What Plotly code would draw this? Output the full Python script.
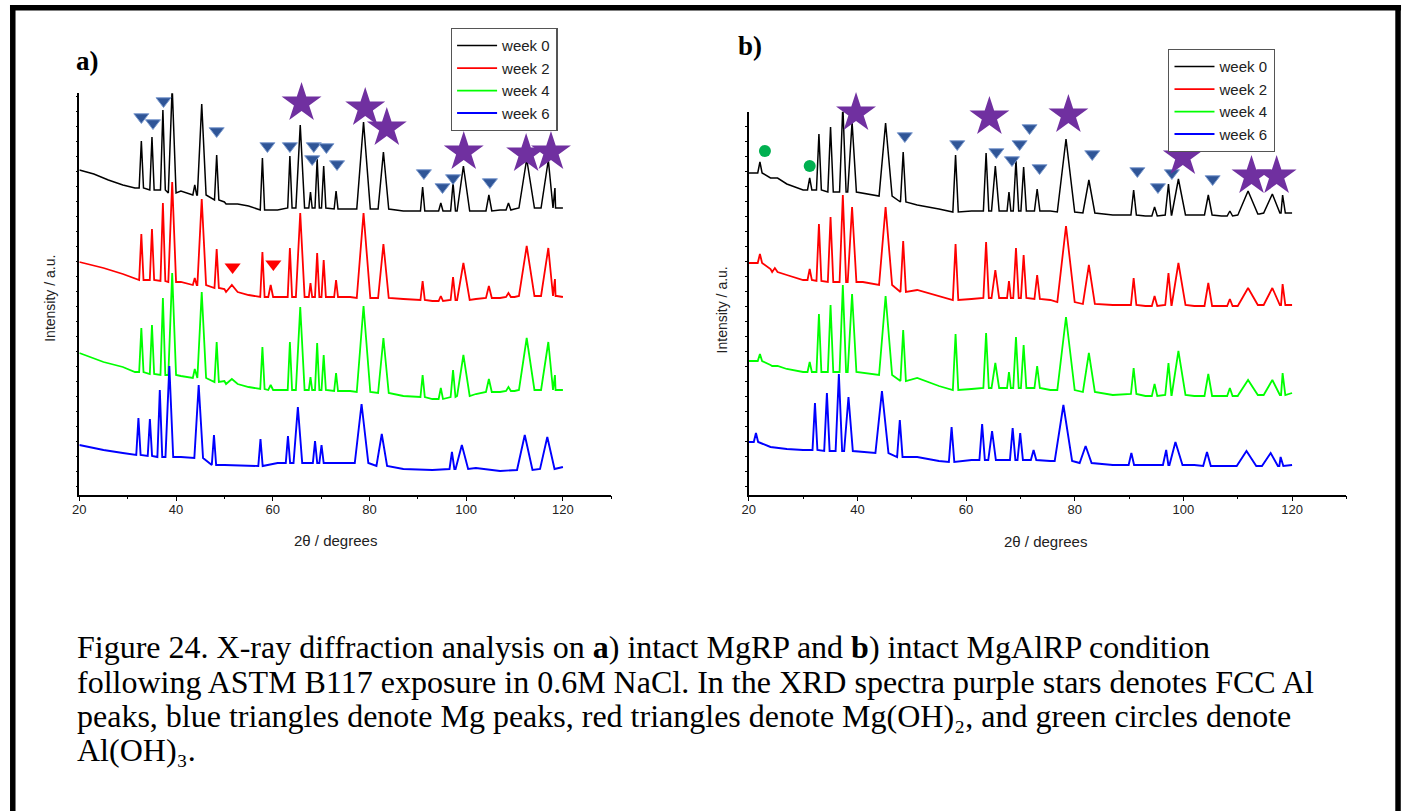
import plotly.graph_objects as go

# ---------------- data (2theta in degrees, intensity in a.u.) ----------------
weeks = ["week 0", "week 2", "week 4", "week 6"]
colors = ["#000000", "#FF0000", "#00FF00", "#0000FF"]

# Panel a (MgRP) - peaks shared by weeks 0, 2, 4
a_pos = [32.82, 35.02, 37.28, 39.20, 43.87, 45.31, 48.40, 51.54, 57.86, 59.57, 63.54, 65.68, 67.80, 69.18,
         70.53, 73.09, 78.77, 82.88, 90.99, 94.75, 97.28, 99.42, 104.69, 108.74, 112.51, 116.98, 118.35]
a_hw = [0.45, 0.45, 0.5, 0.8, 0.4, 0.9, 0.45, 1.2, 0.45, 0.5, 0.45, 0.9, 0.35, 0.45,
        0.45, 0.4, 1.4, 1.1, 0.45, 0.45, 0.5, 1.3, 0.6, 0.5, 1.6, 1.5, 0.4]
a_w0_top = [352, 356, 383, 406, 308, 389, 338, 289, 335, 283, 337, 368, 301, 334,
            327, 302, 371, 341, 306, 290, 310, 327, 298, 290, 334, 333, 305]
a_w0_foot = [305, 303, 303, 300, 298, 298, 293, 289, 283, 283, 285, 285, 285, 285,
             285, 284, 284, 284, 282, 282, 282, 282, 282, 283, 285, 285, 285]
a_w2_top = [259, 264, 290, 311, 215, 294, 244, 208, 241, 208, 245, 280, 210, 240,
            233, 213, 280, 249, 212, 197, 216, 230, 207, 200, 247, 245, 214]
a_w2_foot = [213, 213, 212, 211, 208, 208, 205, 201, 196, 196, 196, 196, 196, 196,
             196, 196, 195, 195, 193, 192, 193, 193, 195, 196, 197, 197, 197]
a_w4_top = [165, 168, 195, 220, 124, 201, 151, 114, 146, 108, 151, 186, 116, 150,
            138, 120, 187, 155, 118, 105, 123, 138, 114, 106, 155, 151, 118]
a_w4_foot = [121, 119, 118, 118, 115, 115, 111, 109, 104, 103, 103, 103, 103, 103,
             103, 102, 101, 100, 96, 94, 96, 97, 101, 102, 103, 103, 103]
a_w6_pos = [32.22, 34.59, 36.64, 38.61, 44.68, 47.84, 57.46, 63.14, 65.19, 68.74, 70.08, 78.36, 82.54,
            97.05, 99.10, 112.11, 116.77]
a_w6_hw = [0.45, 0.45, 0.5, 0.8, 0.9, 0.45, 0.45, 0.45, 0.9, 0.45, 0.45, 1.4, 1.1, 0.5, 1.3, 1.6, 1.5]
a_w6_top = [75, 74, 103, 127, 108, 58, 54, 57, 86, 52, 48, 89, 59, 41, 48, 58, 56]
a_w6_foot = [38, 37, 36, 36, 35, 28, 27, 30, 30, 30, 30, 30, 27, 24, 24, 23, 24]

a_w0_bx = [20, 23, 26, 29, 31.5, 41, 50, 55, 61, 76, 87, 93, 102, 107, 110, 120]
a_w0_by = [323, 319, 313, 308, 305, 302, 291, 287, 283, 284, 282, 282, 282, 283, 284, 285]
a_bx = [20, 25, 29, 31.5, 41, 50, 55, 61, 76, 87, 93, 102, 107, 110, 120]
a_w2_by = [231, 225, 219, 215, 211, 204, 198, 196, 196, 194, 192, 194, 195, 196, 196]
a_w4_by = [140, 131, 126, 121, 117, 112, 106, 103, 102, 97, 94, 99, 101, 102, 103]
a_w6_by = [48, 43, 40, 38, 36, 28, 27, 30, 30, 24, 23, 25, 22, 23, 26]

# Panel b (MgAlRP)
b_pos = [22.05, 24.80, 31.21, 32.91, 35.05, 37.31, 39.01, 45.18, 48.42, 58.06, 63.68, 65.38, 67.89, 69.18,
         70.59, 73.08, 78.39, 82.60, 90.84, 94.69, 97.25, 99.08, 104.58, 108.55, 111.90, 116.37, 118.26]
b_hw = [0.4, 0.5, 0.4, 0.45, 0.5, 0.6, 0.8, 1.2, 0.5, 0.5, 0.5, 0.7, 0.35, 0.5,
        0.5, 0.5, 1.6, 1.1, 0.5, 0.5, 0.6, 1.3, 0.7, 0.5, 1.8, 1.6, 0.5]
b_w0_top = [331, 315, 315, 359, 366, 387, 371, 370, 341, 338, 340, 327, 301, 333,
            326, 304, 354, 313, 303, 286, 309, 314, 298, 282, 302, 299, 298]
b_w0_foot = [320, 315, 303, 303, 301, 301, 301, 297, 291, 281, 282, 282, 282, 282,
             282, 282, 281, 280, 278, 277, 278, 278, 278, 277, 279, 280, 280]
b_w2_top = [239, 225, 224, 269, 276, 298, 286, 286, 252, 249, 251, 223, 212, 245,
            238, 218, 267, 228, 215, 197, 220, 230, 210, 194, 205, 205, 209]
b_w2_foot = [230, 221, 213, 212, 211, 211, 211, 208, 201, 193, 195, 195, 195, 195,
             195, 194, 191, 189, 188, 187, 188, 188, 187, 187, 188, 188, 188]
b_w4_top = [139, 127, 131, 179, 188, 208, 199, 197, 163, 159, 160, 130, 121, 156,
            148, 127, 176, 140, 125, 109, 130, 142, 119, 105, 113, 113, 120]
b_w4_foot = [132, 127, 121, 121, 121, 121, 121, 118, 112, 103, 105, 105, 105, 105,
             105, 105, 103, 101, 99, 97, 98, 98, 97, 97, 98, 98, 98]
b_w6_pos = [21.32, 32.18, 34.38, 36.58, 38.35, 44.51, 47.80, 57.33, 62.95, 64.78, 68.57, 69.96, 72.42,
            77.91, 82.00, 90.42, 96.83, 98.53, 104.34, 111.61, 116.06, 117.89]
b_w6_hw = [0.4, 0.45, 0.5, 0.6, 0.8, 1.2, 0.5, 0.5, 0.5, 0.7, 0.5, 0.5, 0.5,
           1.6, 1.1, 0.5, 0.6, 1.3, 0.7, 1.8, 1.6, 0.5]
b_w6_top = [60, 90, 100, 119, 96, 102, 73, 66, 69, 62, 65, 60, 43, 88, 47, 40, 43, 51, 41, 42, 40, 36]
b_w6_foot = [51, 43, 42, 42, 42, 40, 36, 31, 33, 33, 33, 33, 33, 32, 30, 28, 28, 28, 27, 27, 27, 27]

b_bx = [20, 24, 27, 30, 41, 51, 55, 61, 75.5, 87, 93, 102, 107, 110, 114, 120]
b_w0_by = [320, 315, 309, 303, 300, 288, 284, 282, 282, 278, 277, 278, 277, 278, 279, 280]
b_w2_by = [230, 224, 218, 213, 211, 203, 197, 194, 193, 188, 187, 187, 187, 187, 188, 188]
b_w4_by = [132, 128, 124, 121, 120, 115, 107, 104, 103, 98, 97, 97, 97, 97, 98, 100]
b_w6_by = [51, 46, 44, 43, 41, 36, 32, 33, 32, 28, 28, 28, 27, 27, 27, 28]

# Phase markers
a_star_x = [39.67, 45.72, 65.95, 79.12, 83.58, 99.49, 112.39, 117.53]
a_star_y = [419, 414, 390, 385, 365, 341, 339, 341]
a_mg_x = [32.82, 35.23, 37.41, 48.40, 58.89, 63.54, 68.48, 68.15, 71.09, 73.29, 91.25, 95.10, 97.28, 104.90]
a_mg_y = [376, 370, 392, 362, 347, 347, 347, 334, 346, 329, 320, 306, 315, 311]
a_mgoh_x = [51.69, 60.12]
a_mgoh_y = [226, 229]
b_star_x = [39.74, 45.68, 64.29, 78.83, 99.89, 112.53, 117.16]
b_star_y = [380, 395, 376, 378, 336, 317, 317]
b_mg_x = [33.33, 35.35, 38.22, 48.72, 58.37, 65.57, 68.44, 69.85, 71.68, 73.52, 83.22, 91.52, 95.31, 97.88, 105.38]
b_mg_y = [385, 392, 401, 357, 349, 341, 333, 349, 365, 325, 339, 322, 306, 320, 314]
b_aloh_x = [22.97, 31.21]
b_aloh_y = [342, 327]


def spectrum(pos, hw, top, foot, bx, by):
    pts = []
    for p, w, t, f in zip(pos, hw, top, foot):
        pts += [(p - w, f), (p, t), (p + w, f)]
    for x, y in zip(bx, by):
        if all(abs(x - p) > w for p, w in zip(pos, hw)):
            pts.append((x, y))
    pts.sort(key=lambda q: q[0])
    return [q[0] for q in pts], [q[1] for q in pts]


fig = go.Figure()

a_series = [
    (a_pos, a_hw, a_w0_top, a_w0_foot, a_w0_bx, a_w0_by),
    (a_pos, a_hw, a_w2_top, a_w2_foot, a_bx, a_w2_by),
    (a_pos, a_hw, a_w4_top, a_w4_foot, a_bx, a_w4_by),
    (a_w6_pos, a_w6_hw, a_w6_top, a_w6_foot, a_bx, a_w6_by),
]
b_series = [
    (b_pos, b_hw, b_w0_top, b_w0_foot, b_bx, b_w0_by),
    (b_pos, b_hw, b_w2_top, b_w2_foot, b_bx, b_w2_by),
    (b_pos, b_hw, b_w4_top, b_w4_foot, b_bx, b_w4_by),
    (b_w6_pos, b_w6_hw, b_w6_top, b_w6_foot, b_bx, b_w6_by),
]
widths = [1.5, 1.8, 1.8, 1.9]

for i, s in enumerate(a_series):
    x, y = spectrum(*s)
    fig.add_trace(go.Scatter(x=x, y=y, mode="lines", name=weeks[i],
                             line=dict(color=colors[i], width=widths[i]),
                             xaxis="x", yaxis="y", legend="legend"))
for i, s in enumerate(b_series):
    x, y = spectrum(*s)
    fig.add_trace(go.Scatter(x=x, y=y, mode="lines", name=weeks[i],
                             line=dict(color=colors[i], width=widths[i]),
                             xaxis="x2", yaxis="y2", legend="legend2"))

STAR = dict(symbol="star", size=30, color="#7030A0", line=dict(width=0))
MG = dict(symbol="triangle-down", size=13, color="#2F5597", line=dict(color="#7C9BCF", width=1))
MGOH = dict(symbol="triangle-down", size=14, color="#FF0000", line=dict(width=0))
ALOH = dict(symbol="circle", size=12, color="#00B050", line=dict(width=0))

for xs, ys, mk, ax in [
    (a_mg_x, a_mg_y, MG, ("x", "y")), (a_star_x, a_star_y, STAR, ("x", "y")),
    (a_mgoh_x, a_mgoh_y, MGOH, ("x", "y")),
    (b_mg_x, b_mg_y, MG, ("x2", "y2")), (b_star_x, b_star_y, STAR, ("x2", "y2")),
    (b_aloh_x, b_aloh_y, ALOH, ("x2", "y2")),
]:
    fig.add_trace(go.Scatter(x=xs, y=ys, mode="markers", marker=mk, showlegend=False,
                             cliponaxis=False, xaxis=ax[0], yaxis=ax[1], hoverinfo="skip"))

W, H = 1406, 811
SANS = "Liberation Sans, Arial, sans-serif"
SERIF = "Liberation Serif, Times New Roman, serif"


def xax(d0, d1, anchor):
    return dict(domain=[d0, d1], range=[20, 130], anchor=anchor, showline=True, linecolor="#000",
                linewidth=1.5, ticks="outside", tick0=20, dtick=20, ticklen=5, tickwidth=1.3,
                tickcolor="#000", minor=dict(dtick=10, ticks="outside", ticklen=3, tickwidth=1,
                                             tickcolor="#000"),
                ticklabelstandoff=-3,
                tickfont=dict(family=SANS, size=13, color="#222"), showgrid=False, zeroline=False,
                fixedrange=True)


def yax(d0, d1, top, anchor):
    return dict(domain=[d0, d1], range=[-1.5, top], anchor=anchor, showline=True, linecolor="#000",
                linewidth=1.5, showticklabels=False, ticks="outside", ticklen=2, tickwidth=1,
                tickcolor="#000", tick0=7, dtick=15, showgrid=False, zeroline=False, fixedrange=True)


ybot = (H - 494.5) / H

legend_common = dict(bgcolor="#FFFFFF", bordercolor="#555555", borderwidth=1.3,
                     font=dict(family=SANS, size=15, color="#222"), xanchor="left", yanchor="top",
                     tracegroupgap=0, itemwidth=40)

annotations = [
    dict(text="<b>a)</b>", x=81 / W, y=1 - 61 / H, xref="paper", yref="paper", showarrow=False,
         font=dict(family=SERIF, size=27, color="#000"), xanchor="center", yanchor="middle"),
    dict(text="<b>b)</b>", x=747 / W, y=1 - 46 / H, xref="paper", yref="paper", showarrow=False,
         font=dict(family=SERIF, size=27, color="#000"), xanchor="center", yanchor="middle"),
    dict(text="Intensity / a.u.", x=43 / W, y=1 - 298 / H, xref="paper", yref="paper",
         showarrow=False, textangle=-90, font=dict(family=SANS, size=14, color="#222"),
         xanchor="center", yanchor="middle"),
    dict(text="Intensity / a.u.", x=719 / W, y=1 - 310 / H, xref="paper", yref="paper",
         showarrow=False, textangle=-90, font=dict(family=SANS, size=14, color="#222"),
         xanchor="center", yanchor="middle"),
    dict(text="2θ / degrees", x=330 / W, y=1 - 540 / H, xref="paper", yref="paper",
         showarrow=False, font=dict(family=SANS, size=15, color="#222"),
         xanchor="center", yanchor="middle"),
    dict(text="2θ / degrees", x=1044 / W, y=1 - 541 / H, xref="paper", yref="paper",
         showarrow=False, font=dict(family=SANS, size=15, color="#222"),
         xanchor="center", yanchor="middle"),
]

caption = [
    "Figure 24. X-ray diffraction analysis on <b>a</b>) intact MgRP and <b>b</b>) intact MgAlRP condition",
    "following ASTM B117 exposure in 0.6M NaCl. In the XRD spectra purple stars denotes FCC Al",
    "peaks, blue triangles denote Mg peaks, red triangles denote Mg(OH)₂, and green circles denote",
    "Al(OH)₃.",
]
cap_y = [647, 682, 716, 750]
for t, yy in zip(caption, cap_y):
    annotations.append(dict(text=t, x=68 / W, y=1 - yy / H, xref="paper", yref="paper",
                            showarrow=False, font=dict(family=SERIF, size=32, color="#000"),
                            xanchor="left", yanchor="middle", align="left"))

shapes = [
    dict(type="line", xref="paper", yref="paper", x0=5.8 / W, x1=5.8 / W, y0=0, y1=1 - 5 / H,
         line=dict(color="#000", width=5.5)),
    dict(type="line", xref="paper", yref="paper", x0=3 / W, x1=1401 / W, y0=1 - 7.8 / H,
         y1=1 - 7.8 / H, line=dict(color="#000", width=5.5)),
    dict(type="line", xref="paper", yref="paper", x0=1398 / W, x1=1398 / W, y0=0, y1=1 - 5 / H,
         line=dict(color="#000", width=5.5)),
]

fig.update_layout(
    width=W, height=H, margin=dict(l=0, r=0, t=0, b=0), autosize=False,
    paper_bgcolor="#FFFFFF", plot_bgcolor="rgba(0,0,0,0)",
    xaxis=xax(72.7 / W, 607.3 / W, "y"),
    yaxis=yax(ybot, 1 - 93.3 / H, 399.7, "x"),
    xaxis2=xax(745.5 / W, 1346.1 / W, "y2"),
    yaxis2=yax(ybot, 1 - 111.7 / H, 381.3, "x2"),
    legend=dict(x=446 / W, y=1 - 28 / H, **legend_common),
    legend2=dict(x=1167 / W, y=1 - 49 / H, **legend_common),
    annotations=annotations, shapes=shapes, showlegend=True,
)

fig.write_html("out.html", config={"displayModeBar": False},
               post_script="document.body.style.margin='0px';document.body.style.padding='0px';"
                           "document.documentElement.style.overflow='hidden';")
